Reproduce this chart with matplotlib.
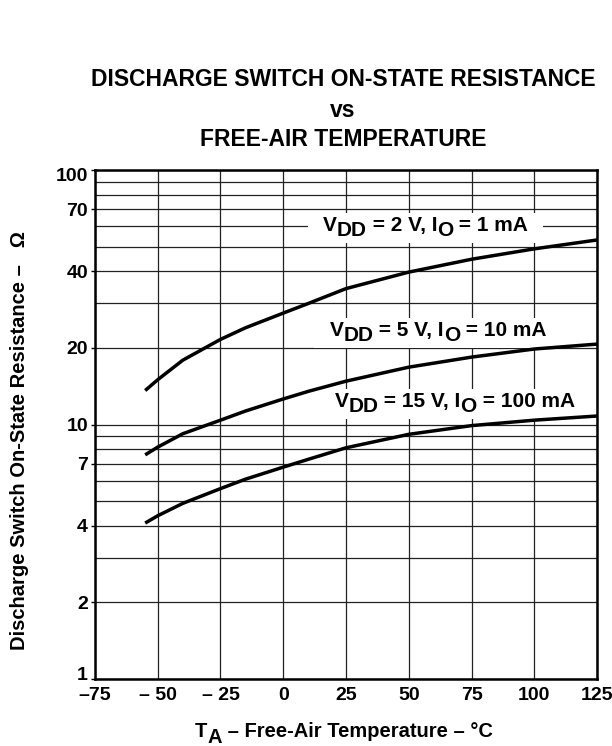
import matplotlib
matplotlib.use("Agg")
import matplotlib.pyplot as plt
from matplotlib.ticker import FixedLocator, NullFormatter
from matplotlib.patches import Rectangle
from matplotlib.transforms import Bbox, IdentityTransform, ScaledTranslation

plt.rcParams['font.family'] = ['Liberation Sans', 'DejaVu Sans']
plt.rcParams['font.weight'] = 'bold'
plt.rcParams['axes.labelweight'] = 'bold'

# free-air temperature (deg C)
temp = [-55, -50, -40, -25, -15, 0, 10, 25, 50, 75, 100, 125]

# on-state resistance (ohm) for each test condition
r_2v = [13.6, 15.0, 17.9, 21.6, 24.0, 27.4, 29.9, 34.2, 39.7, 44.6, 49.0, 53.1]
r_5v = [7.6, 8.15, 9.2, 10.4, 11.3, 12.6, 13.5, 14.8, 16.8, 18.4, 19.8, 20.7]
r_15v = [4.1, 4.38, 4.9, 5.6, 6.1, 6.8, 7.3, 8.1, 9.15, 9.9, 10.4, 10.8]

# label pieces: (text, lowered?)
curve_labels = [
    [("V", 0), ("DD", 1), (" = 2 V, I", 0), ("O", 1), (" = 1 mA", 0)],
    [("V", 0), ("DD", 1), (" = 5 V, I", 0), ("O", 1), (" = 10 mA", 0)],
    [("V", 0), ("DD", 1), (" = 15 V, I", 0), ("O", 1), (" = 100 mA", 0)],
]
label_start = [(15.7, 57.6), (18.4, 22.3), (20.4, 11.75)]

xticks = [-75, -50, -25, 0, 25, 50, 75, 100, 125]
xticklabels = ["\u201375", "\u2013 50", "\u2013 25", "0", "25", "50", "75", "100", "125"]
yticks = [1, 2, 4, 7, 10, 20, 40, 70, 100]
yminor = [3, 5, 6, 8, 9, 30, 50, 60, 80, 90]


def chain_text(first, pieces, size, drop, **kw):
    # continue after `first`, lowering the subscript pieces
    arts = [first]
    prev, prev_off = first, 0
    for s, low in pieces:
        off = -drop if low else 0
        prev = ax.annotate(s, xy=(1, 0), xycoords=prev,
                           xytext=(0, off - prev_off), textcoords='offset points',
                           ha='left', va='bottom', fontsize=size,
                           annotation_clip=False, **kw)
        arts.append(prev)
        prev_off = off
    return arts


fig = plt.figure(figsize=(6.12, 7.46), dpi=100)
ax = fig.add_axes([0.1552, 0.0898, 0.8203, 0.6823])

for r in (r_2v, r_5v, r_15v):
    ax.plot(temp, r, color='black', lw=2.5, zorder=4, solid_capstyle='butt')

groups = []
for pieces, (x, y) in zip(curve_labels, label_start):
    t0 = ax.text(x, y, pieces[0][0], ha='left', va='baseline', fontsize=15, zorder=5)
    groups.append(chain_text(t0, pieces[1:], 15, 3.5, zorder=5))

ax.set_yscale('log')
ax.set_xlim(-75, 125)
ax.set_ylim(1, 100)
ax.set_xticks(xticks)
ax.set_xticklabels(xticklabels)
ax.yaxis.set_major_locator(FixedLocator(yticks))
ax.set_yticklabels([str(v) for v in yticks])
ax.yaxis.set_minor_locator(FixedLocator(yminor))
ax.yaxis.set_minor_formatter(NullFormatter())

ax.set_axisbelow(True)
ax.grid(True, which='both', axis='y', color='#222222', lw=0.9)
ax.grid(True, which='major', axis='x', color='#222222', lw=0.9)
ax.tick_params(axis='x', length=0, pad=6, labelsize=14)
ax.tick_params(axis='y', which='major', length=3, width=1, pad=2, labelsize=14)
ax.tick_params(axis='y', which='minor', length=0)
for s in ax.spines.values():
    s.set_linewidth(1.8)

# end labels sit inside the axis range, as in the original
yt = ax.yaxis.get_major_ticks()
yt[0].label1.set_transform(yt[0].label1.get_transform()
                           + ScaledTranslation(0, 4 / 72, fig.dpi_scale_trans))
yt[-1].label1.set_transform(yt[-1].label1.get_transform()
                            + ScaledTranslation(0, -3 / 72, fig.dpi_scale_trans))

# x axis label with a lowered "A"
xt = fig.text(195 / 612, 1 - 737 / 746, "T", ha='left', va='baseline', fontsize=14.5)
chain_text(xt, [("A", 1), (" \u2013 Free-Air Temperature \u2013 \u00b0C", 0)], 14.5, 4.5)

fig.text(20 / 612, 1 - 440 / 746, "Discharge Switch On-State Resistance \u2013   \u03a9",
         rotation=90, ha='center', va='center', fontsize=14.5)

fig.text(343 / 612, 1 - 86.5 / 746, "DISCHARGE SWITCH ON-STATE RESISTANCE", ha='center',
         va='baseline', fontsize=16.5)
fig.text(343 / 612, 1 - 116.7 / 746, "vs", ha='center', va='baseline', fontsize=16.5)
fig.text(343 / 612, 1 - 146.5 / 746, "FREE-AIR TEMPERATURE", ha='center', va='baseline',
         fontsize=16.5)

# white boxes behind the curve labels, hiding the grid
fig.canvas.draw()
for arts in groups:
    bb = Bbox.union([a.get_window_extent() for a in arts])
    ax.add_patch(Rectangle((bb.x0 - 15, bb.y0 - 3), bb.width + 30, bb.height + 6,
                           transform=IdentityTransform(), facecolor='white',
                           edgecolor='none', zorder=3))

fig.savefig("out.png", dpi=100)
